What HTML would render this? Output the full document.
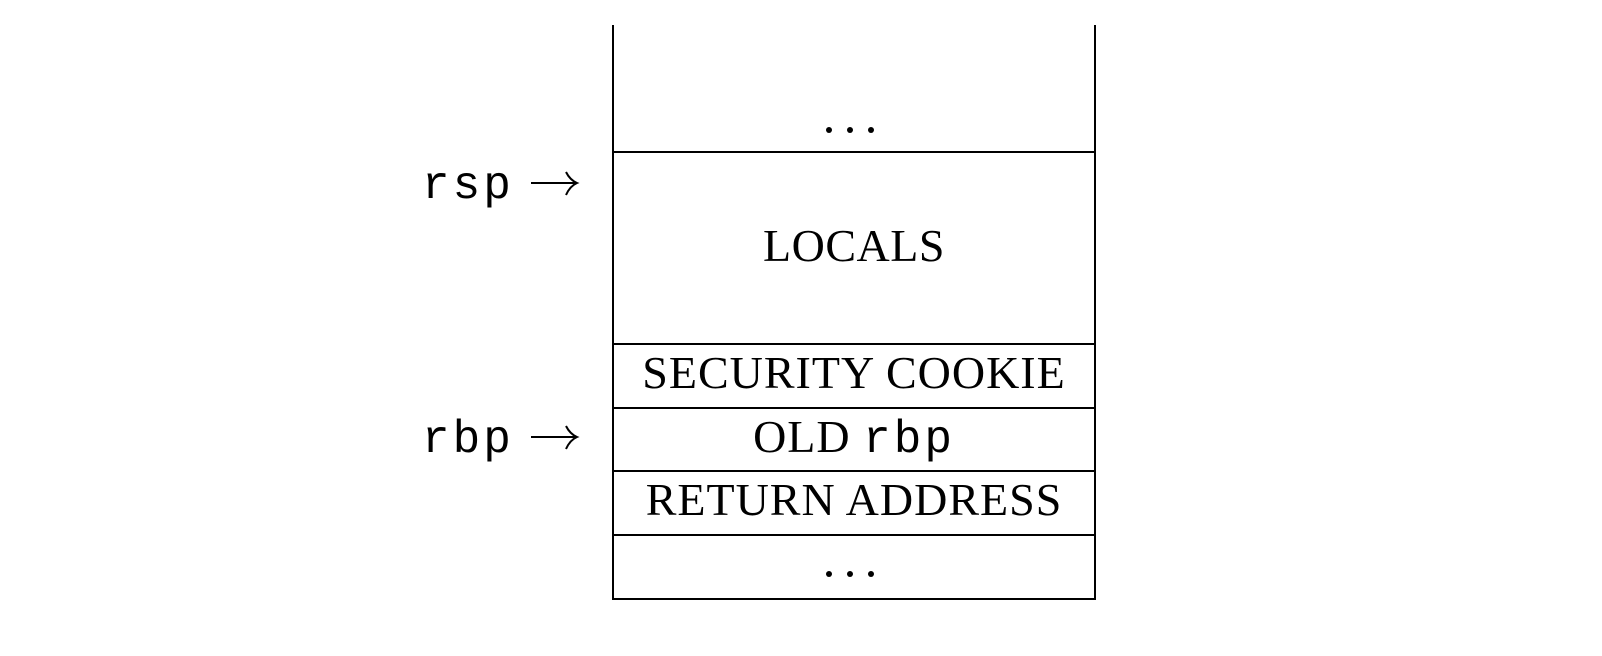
<!DOCTYPE html>
<html><head><meta charset="utf-8"><style>
html,body{margin:0;padding:0;background:#fff;}
svg{display:block}
text{fill:#000}
.s{font-family:"Liberation Serif",serif;font-size:46px;letter-spacing:1px}
.m{font-family:"Liberation Mono",monospace;font-size:46px;letter-spacing:3px}
</style></head><body>
<svg width="1602" height="656" viewBox="0 0 1602 656" xmlns="http://www.w3.org/2000/svg">
<g stroke="#000" stroke-width="2" fill="none">
<line x1="613" y1="25" x2="613" y2="599"/>
<line x1="1095" y1="25" x2="1095" y2="599"/>
<line x1="612" y1="152" x2="1096" y2="152"/>
<line x1="612" y1="344" x2="1096" y2="344"/>
<line x1="612" y1="408" x2="1096" y2="408"/>
<line x1="612" y1="471" x2="1096" y2="471"/>
<line x1="612" y1="535" x2="1096" y2="535"/>
<line x1="612" y1="599" x2="1096" y2="599"/>
<path d="M531 183 H576 M566 172 Q570 180 577 183 Q570 186 566 195"/>
<path d="M531 437 H576 M566 426 Q570 434 577 437 Q570 440 566 449"/>
</g>
<g fill="#000">
<circle cx="829" cy="130" r="3"/><circle cx="850" cy="130" r="3"/><circle cx="871" cy="130" r="3"/>
<circle cx="829" cy="574" r="3"/><circle cx="850" cy="574" r="3"/><circle cx="871" cy="574" r="3"/>
</g>
<text class="m" x="422" y="198">rsp</text>
<text class="m" x="422" y="452">rbp</text>
<text class="s" x="854" y="261" text-anchor="middle" style="letter-spacing:0.5px">LOCALS</text>
<text class="s" x="854" y="388" text-anchor="middle">SECURITY COOKIE</text>
<text class="s" x="854" y="452" text-anchor="middle">OLD <tspan class="m">rbp</tspan></text>
<text class="s" x="854" y="515" text-anchor="middle">RETURN ADDRESS</text>
</svg>
</body></html>
